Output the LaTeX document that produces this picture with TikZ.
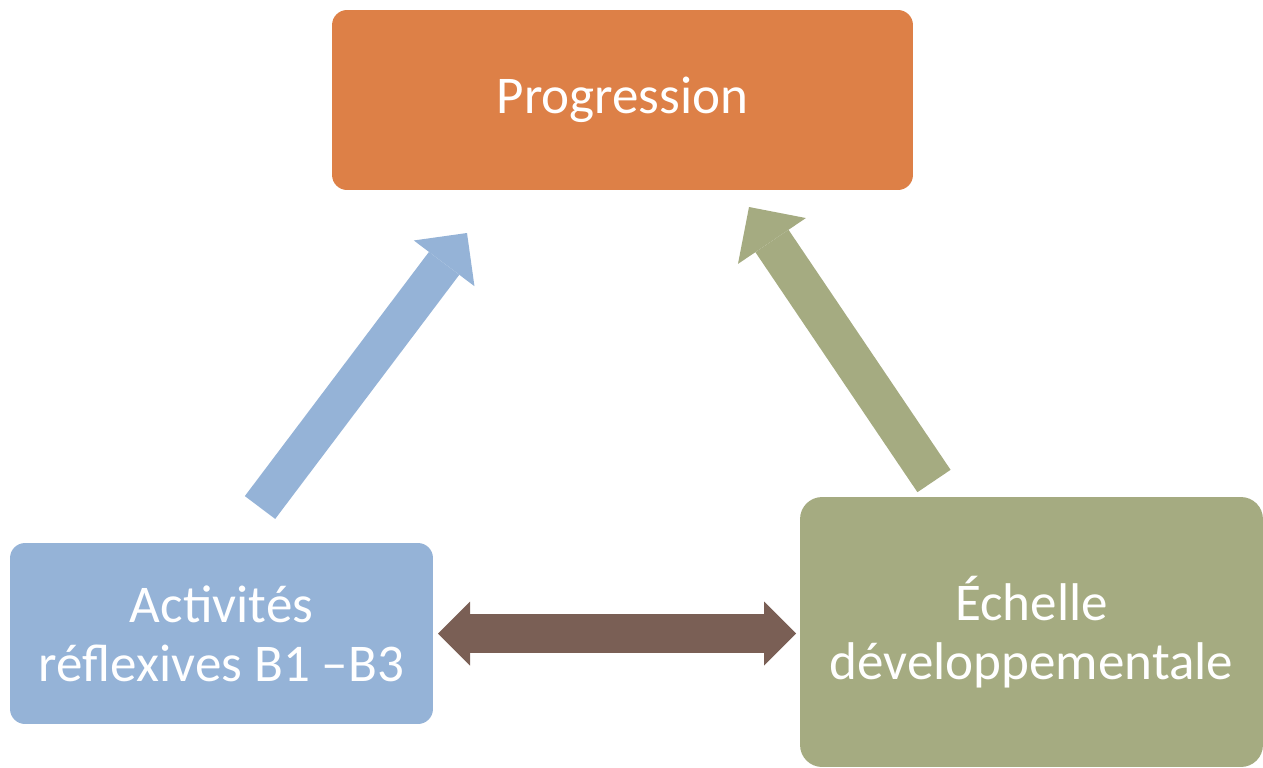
\documentclass[tikz,border=0pt]{standalone}
\usepackage{fontspec}
\setmainfont{Carlito}
\usetikzlibrary{arrows.meta}
\definecolor{progorange}{HTML}{DD8047}
\definecolor{actblue}{HTML}{95B3D7}
\definecolor{echgreen}{HTML}{A5AB81}
\definecolor{linkbrown}{HTML}{7A5F55}

\begin{document}
\begin{tikzpicture}[x=0.02cm, y=-0.02cm,
  box/.style={rounded corners=0.3cm, text=white, align=center, inner sep=0pt,
    font=\fontsize{30.2}{33.5}\selectfont}]
\useasboundingbox (0,0) rectangle (1263,767);

% the three boxes
\node[box, fill=progorange, minimum width=11.62cm, minimum height=3.6cm] (prog) at (622.5,100) {Progression};
\node[box, fill=actblue, minimum width=8.46cm, minimum height=3.62cm] (act) at (221.5,633.5) {Activités\\réflexives B1 –B3};
\node[box, fill=echgreen, rounded corners=0.44cm, minimum width=9.26cm, minimum height=5.4cm] (ech) at (1031.5,632) {Échelle\\développementale};

% arrow ends
\coordinate (blueTail) at (260,507.5);
\coordinate (blueTip) at (467,233);
\coordinate (greenTail) at (934,481);
\coordinate (greenTip) at (749,207);
\coordinate (brownLeft) at (438,633.5);
\coordinate (brownRight) at (796,633.5);

\draw[actblue, line width=0.76cm, -{Triangle[length=0.76cm, width=1.52cm, line width=0pt]}] (blueTail) -- (blueTip);
\draw[echgreen, line width=0.8cm, -{Triangle[length=0.82cm, width=1.64cm, line width=0pt]}] (greenTail) -- (greenTip);
\draw[linkbrown, line width=0.78cm, {Triangle[length=0.64cm, width=1.28cm, line width=0pt]}-{Triangle[length=0.64cm, width=1.28cm, line width=0pt]}] (brownLeft) -- (brownRight);

\end{tikzpicture}
\end{document}
